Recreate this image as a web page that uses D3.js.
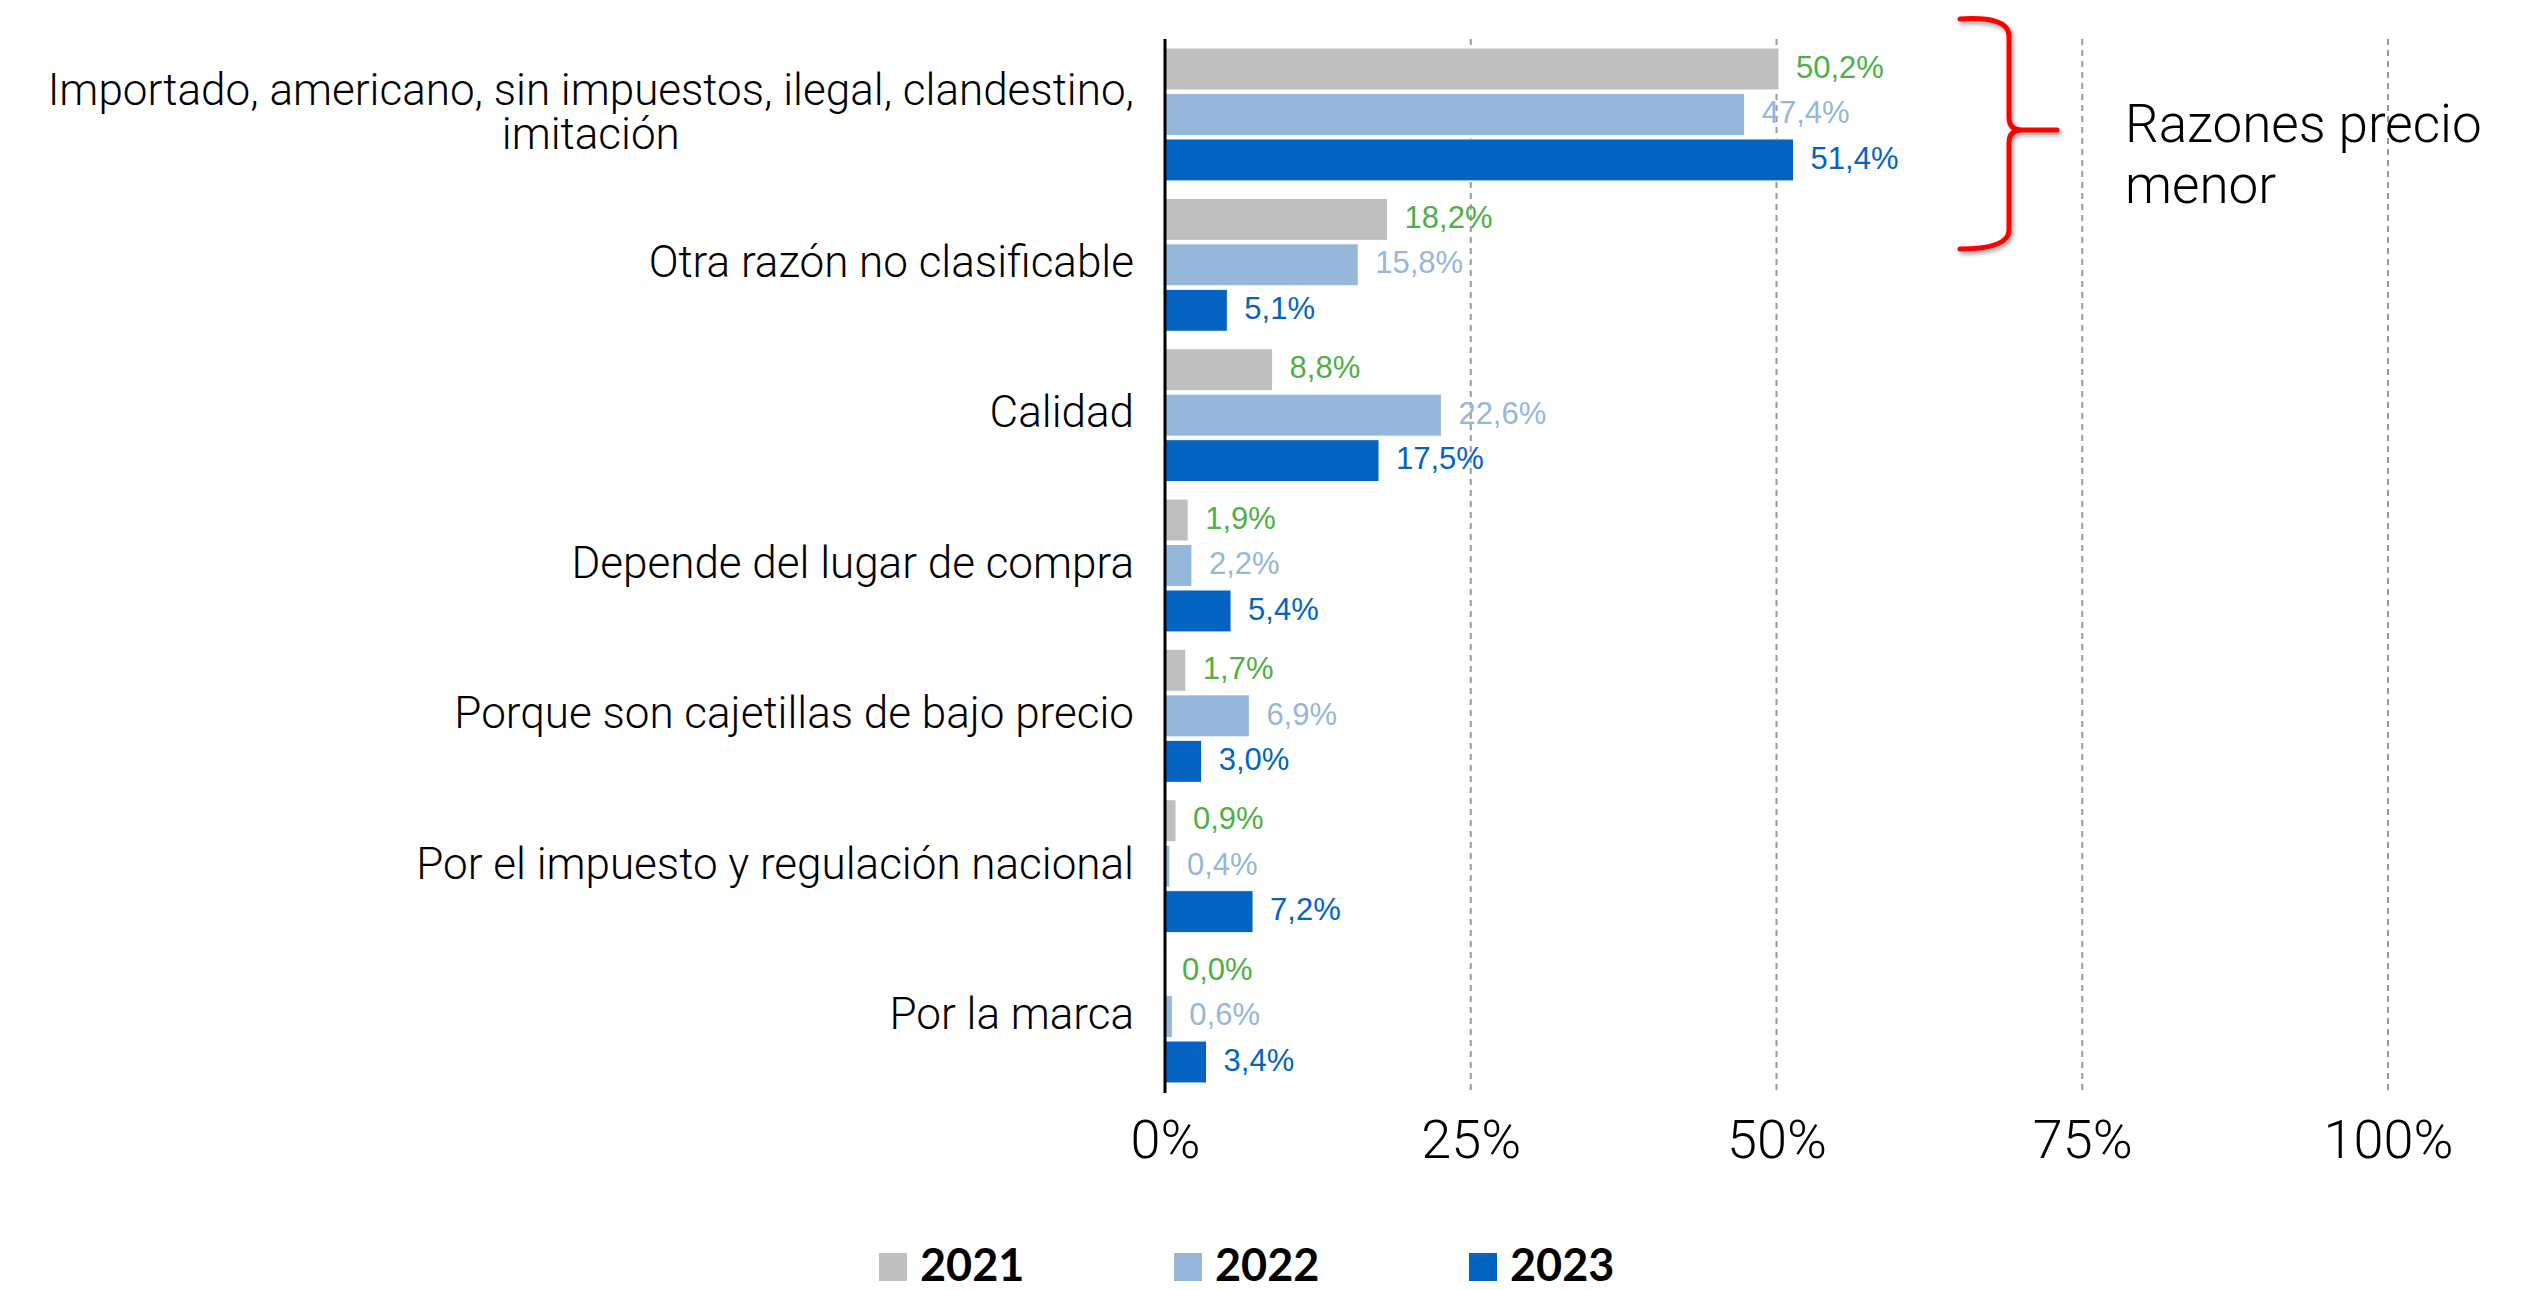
<!DOCTYPE html>
<html>
<head>
<meta charset="utf-8">
<script src="https://cdn.jsdelivr.net/npm/d3@7"></script>
<style>
  body { margin: 0; background: #fff; }
  svg { display: block; }
</style>
</head>
<body>
<script>
// data
var categories = [
  "Importado, americano, sin impuestos, ilegal, clandestino,|imitación",
  "Otra razón no clasificable",
  "Calidad",
  "Depende del lugar de compra",
  "Porque son cajetillas de bajo precio",
  "Por el impuesto y regulación nacional",
  "Por la marca"
];
var years = ["2021", "2022", "2023"];
var v2021 = [50.2, 18.2, 8.8, 1.9, 1.7, 0.9, 0.0];
var v2022 = [47.4, 15.8, 22.6, 2.2, 6.9, 0.4, 0.6];
var v2023 = [51.4, 5.1, 17.5, 5.4, 3.0, 7.2, 3.4];
var tickVals = [0, 25, 50, 75, 100];

var barColor = {"2021": "#bfbfbf", "2022": "#95b7d9", "2023": "#0563c1"};
var labColor = {"2021": "#4eaf45", "2022": "#95b7d9", "2023": "#0563c1"};

var W = 2530, H = 1290;
var plotTop = 39, plotBottom = 1092, plotLeft = 1165, plotRight = 2388;

var svg = d3.select('body').append('svg')
  .attr('width', W).attr('height', H);

var x = d3.scaleLinear().domain([0, 100]).range([plotLeft, plotRight]);
var y = d3.scaleBand().domain(categories).range([plotTop, plotBottom])
  .paddingInner(0.116).paddingOuter(0.06);
var ySub = d3.scaleBand().domain(years).range([0, y.bandwidth()])
  .paddingInner(0.077);

var rows = [];
categories.forEach(function(c, i){
  [v2021, v2022, v2023].forEach(function(arr, j){
    rows.push({cat: c, year: years[j], v: arr[i]});
  });
});

// gridlines (behind bars)
svg.append('g').selectAll('line')
  .data(tickVals.slice(1))
  .enter().append('line')
    .attr('x1', function(d){ return x(d); })
    .attr('x2', function(d){ return x(d); })
    .attr('y1', plotTop).attr('y2', plotBottom)
    .attr('stroke', '#9a9a9a')
    .attr('stroke-width', 2)
    .attr('stroke-dasharray', '6,5');

// bars
svg.append('g').selectAll('rect')
  .data(rows)
  .enter().append('rect')
    .attr('x', x(0))
    .attr('y', function(d){ return y(d.cat) + ySub(d.year); })
    .attr('width', function(d){ return x(d.v) - x(0); })
    .attr('height', ySub.bandwidth())
    .attr('fill', function(d){ return barColor[d.year]; })
    .attr('stroke', '#fff')
    .attr('stroke-width', 1);

// value labels
var fmt = d3.format('.1f');
svg.append('g').selectAll('text')
  .data(rows)
  .enter().append('text')
    .attr('x', function(d){ return x(d.v) + 17; })
    .attr('y', function(d){ return y(d.cat) + ySub(d.year) + ySub.bandwidth()/2; })
    .attr('dy', '0.28em')
    .attr('font-family', '"Liberation Sans", Arial, sans-serif')
    .attr('font-size', 31)
    .attr('fill', function(d){ return labColor[d.year]; })
    .text(function(d){ return fmt(d.v).replace('.', ',') + '%'; });

// vertical axis line
svg.append('line')
  .attr('x1', x(0)).attr('x2', x(0))
  .attr('y1', plotTop).attr('y2', plotBottom + 1)
  .attr('stroke', '#000').attr('stroke-width', 3);

// category labels
var catG = svg.append('g')
  .attr('font-family', 'Roboto, "Liberation Sans", sans-serif')
  .attr('font-weight', 300)
  .attr('font-size', 44)
  .attr('fill', '#000');
categories.forEach(function(c){
  var lines = c.split('|');
  var cy = y(c) + y.bandwidth()/2;
  var t = catG.append('text').attr('x', 1134).attr('text-anchor', 'end')
    .attr('y', cy - (lines.length - 1) * 22).attr('dy', '0.28em')
    .text(lines[0]);
  if (lines.length > 1) {
    var w = t.node().getComputedTextLength();
    catG.append('text').attr('x', 1134 - w/2).attr('text-anchor', 'middle')
      .attr('y', cy + 22).attr('dy', '0.28em')
      .text(lines[1]);
  }
});

// x axis
var xAxis = svg.append('g')
  .attr('transform', 'translate(0,' + plotBottom + ')')
  .call(d3.axisBottom(x).tickValues(tickVals)
    .tickFormat(function(d){ return d + '%'; })
    .tickSize(0).tickPadding(28));
xAxis.select('.domain').remove();
xAxis.selectAll('text')
  .attr('font-family', 'Roboto, "Liberation Sans", sans-serif')
  .attr('font-weight', 300)
  .attr('font-size', 54)
  .attr('fill', '#000');

// bracket
var defs = svg.append('defs');
var f = defs.append('filter').attr('id', 'sh').attr('x', '-20%').attr('y', '-20%')
  .attr('width', '150%').attr('height', '150%');
f.append('feDropShadow').attr('dx', 2).attr('dy', 3).attr('stdDeviation', 2)
  .attr('flood-color', '#000').attr('flood-opacity', 0.35);
svg.append('path')
  .attr('d', 'M1960,19 Q2009,16 2009,36 L2009,117 Q2009,130 2022,130 L2057,130 ' +
             'M2022,130 Q2009,130 2009,143 L2009,230 Q2009,249 1960,249')
  .attr('fill', 'none')
  .attr('stroke', '#ff0000')
  .attr('stroke-width', 5)
  .attr('stroke-linecap', 'round')
  .attr('filter', 'url(#sh)');

var note = svg.append('text')
  .attr('font-family', 'Roboto, "Liberation Sans", sans-serif')
  .attr('font-weight', 300)
  .attr('font-size', 53)
  .attr('fill', '#000');
note.append('tspan').attr('x', 2125).attr('y', 142).text('Razones precio');
note.append('tspan').attr('x', 2125).attr('y', 203).text('menor');

// legend
var leg = svg.append('g').selectAll('g')
  .data(years)
  .enter().append('g')
    .attr('transform', function(d, i){ return 'translate(' + (879 + i * 295) + ',1253)'; });
leg.append('rect')
  .attr('width', 28).attr('height', 28)
  .attr('fill', function(d){ return barColor[d]; });
leg.append('text')
  .attr('x', 41).attr('y', 28)
  .attr('font-family', 'Lato, "Liberation Sans", sans-serif')
  .attr('font-weight', 'bold')
  .attr('font-size', 45)
  .attr('fill', '#000')
  .text(function(d){ return d; });
</script>
</body>
</html>
